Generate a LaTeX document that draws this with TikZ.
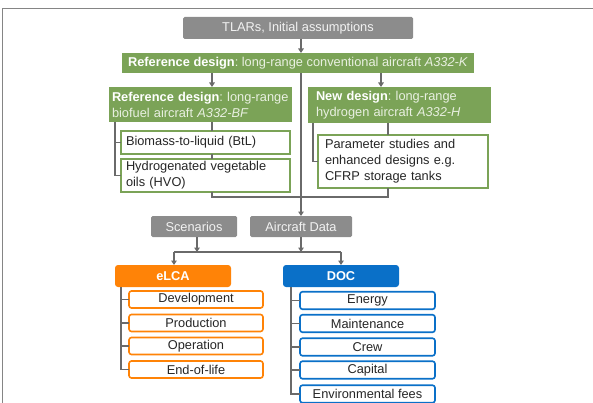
\documentclass[tikz,border=0pt]{standalone}
\usepackage{fontspec}
\setmainfont{Liberation Sans}
\usetikzlibrary{arrows.meta}
\definecolor{gfill}{HTML}{8C8C8C}
\definecolor{gtext}{HTML}{F2F2F2}
\definecolor{grn}{HTML}{7BA357}
\definecolor{grntext}{HTML}{E9F0E1}
\definecolor{org}{HTML}{FF8307}
\definecolor{blu}{HTML}{0A70C8}
\definecolor{lncol}{HTML}{6A6A6A}
\definecolor{frame}{HTML}{858585}
\definecolor{dark}{HTML}{262626}
\begin{document}
\begin{tikzpicture}[x=1pt,y=-1pt,
  font=\frenchspacing\fontsize{12.8}{16}\selectfont,
  box/.style={inner xsep=5pt, inner ysep=0pt, outer sep=0pt, align=center},
  greybox/.style={box, fill=gfill, text=gtext, rounded corners=1.5pt},
  greenbox/.style={box, fill=grn, text=grntext, align=left},
  gsub/.style={box, draw=grn, line width=1.6pt, fill=white, text=dark, align=left},
  headbox/.style={box, rounded corners=3pt, text=white, font=\fontsize{12.8}{16}\selectfont\bfseries},
  osub/.style={box, draw=org, line width=1.6pt, rounded corners=2.5pt, fill=white, text=dark, minimum width=134pt, minimum height=17pt},
  bsub/.style={box, draw=blu, line width=1.6pt, rounded corners=2.5pt, fill=white, text=dark, minimum width=135pt, minimum height=17.5pt},
  ln/.style={draw=lncol, line width=1.2pt},
  arr/.style={ln, -{Triangle[length=4.5pt,width=5.5pt]}}
]
\useasboundingbox (0,0) rectangle (593,403);
% frame
\draw[draw=frame, line width=1.5pt] (2.5,403) -- (2.5,8.5) -- (593,8.5);

% coordinates for connector columns
\coordinate (xa) at (212,0);
\coordinate (xb) at (381,0);
\coordinate (xc) at (301,0);
\coordinate (xd) at (115,0);
\coordinate (xe) at (388,0);
\coordinate (xf) at (313,0);
\coordinate (xg) at (197,0);
\coordinate (xh) at (174,0);
\coordinate (xi) at (341,0);
\coordinate (xj) at (121,0);
\coordinate (xk) at (291,0);
\coordinate (yh) at (0,197);
\coordinate (yj) at (0,252);

% nodes
\node[greybox, minimum width=230pt, minimum height=22pt] (tlar) at (298,28) {TLARs, Initial assumptions};
\node[greenbox, minimum width=352pt, minimum height=20pt] (refk) at (298,63)
  {\textcolor{white}{\bfseries Reference design}: long-range conventional aircraft \textit{A332-K}};
\node[greenbox, inner xsep=3pt, text width=177pt, minimum height=35pt] (bio) at (200.5,104.5)
  {\textcolor{white}{\bfseries Reference design}: long-range\\ biofuel aircraft \textit{A332-BF}};
\node[greenbox, inner xsep=8pt, text width=167pt, minimum height=36pt] (hyd) at (399.5,105)
  {\textcolor{white}{\bfseries New design}: long-range\\ hydrogen aircraft \textit{A332-H}};
\node[gsub, text width=159pt, minimum height=23pt] (btl) at (205.5,142.5) {Biomass-to-liquid (BtL)};
\node[gsub, text width=159pt, minimum height=33pt] (hvo) at (205.5,175.5) {Hydrogenated vegetable\\ oils (HVO)};
\node[gsub, inner xsep=7pt, text width=156pt, minimum height=53pt] (param) at (403,161.5)
  {Parameter studies and\\ enhanced designs e.g.\\ CFRP storage tanks};
\node[greybox, minimum width=86pt, minimum height=21pt] (scen) at (194,226.5) {Scenarios};
\node[greybox, minimum width=102pt, minimum height=21pt] (acd) at (301,226.5) {Aircraft Data};
\node[headbox, fill=org, minimum width=116pt, minimum height=22pt] (elca) at (173,276) {eLCA};
\node[headbox, fill=blu, minimum width=116pt, minimum height=22pt] (doc) at (341,276) {DOC};
\node[osub] (dev) at (196,299.5) {Development};
\node[osub] (prod) at (196,323) {Production};
\node[osub] (oper) at (196,346) {Operation};
\node[osub] (eol) at (196,369.5) {End-of-life};
\node[bsub] (energy) at (367.5,300.5) {Energy};
\node[bsub] (maint) at (367.5,323.5) {Maintenance};
\node[bsub] (crew) at (367.5,347) {Crew};
\node[bsub] (capital) at (367.5,370) {Capital};
\node[bsub] (envfees) at (367.5,394) {Environmental fees};

% connectors
\draw[arr] (tlar.south -| xc) -- (refk.north -| xc);
\draw[arr] (refk.south -| xa) -- (bio.north -| xa);
\draw[arr] (refk.south -| xb) -- (hyd.north -| xb);
\draw[arr] (refk.south -| xc) -- (acd.north -| xc);
\draw[ln] (bio.south -| xd) |- (btl.west);
\draw[ln] (bio.south -| xd) |- (hvo.west);
\draw[ln] (bio.south -| xa) -- (btl.north -| xa);
\draw[ln] (btl.south -| xa) -- (hvo.north -| xa);
\draw[ln] (hvo.south -| xa) |- (xe |- yh) -- (param.south -| xe);
\draw[ln] (hyd.south -| xe) -- (param.north -| xe);
\draw[ln] (hyd.south -| xf) |- (param.west);
\draw[arr] (scen.south -| xg) -- (xg |- yj);
\draw[arr] (acd.south -| xc) -- (xc |- yj);
\draw[ln] (xh |- yj) -- (xi |- yj);
\draw[arr] (xh |- yj) -- (elca.north -| xh);
\draw[arr] (xi |- yj) -- (doc.north -| xi);
\draw[ln] (elca.south -| xj) |- (dev.west);
\draw[ln] (elca.south -| xj) |- (prod.west);
\draw[ln] (elca.south -| xj) |- (oper.west);
\draw[ln] (elca.south -| xj) |- (eol.west);
\draw[ln] (doc.south -| xk) |- (energy.west);
\draw[ln] (doc.south -| xk) |- (maint.west);
\draw[ln] (doc.south -| xk) |- (crew.west);
\draw[ln] (doc.south -| xk) |- (capital.west);
\draw[ln] (doc.south -| xk) |- (envfees.west);
\end{tikzpicture}
\end{document}
